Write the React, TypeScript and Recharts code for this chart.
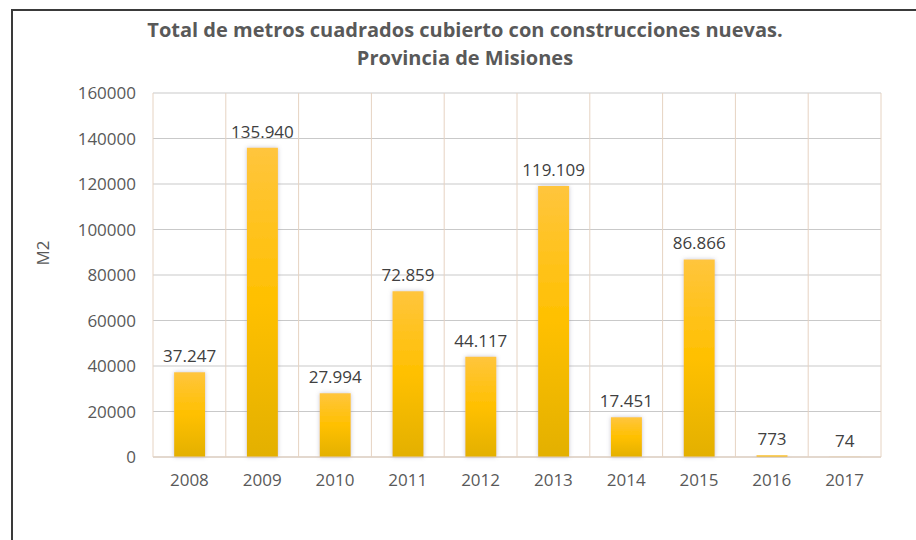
import React from 'react';
import { BarChart, Bar, XAxis, YAxis, CartesianGrid, LabelList } from 'recharts';

const years = ['2008', '2009', '2010', '2011', '2012', '2013', '2014', '2015', '2016', '2017'];
const m2Values = [37247, 135940, 27994, 72859, 44117, 119109, 17451, 86866, 773, 74];
const yTicks = [0, 20000, 40000, 60000, 80000, 100000, 120000, 140000, 160000];

const data = years.map((year, i) => ({ year, m2: m2Values[i] }));

const FONT = '"Open Sans", sans-serif';

// 37247 -> "37.247"
const fmtThousands = (v: number) => String(v).replace(/\B(?=(\d{3})+(?!\d))/g, '.');

const App: React.FC = () => {
  const plotLeft = 153;
  const plotRight = 881;
  const plotTop = 93;
  const plotBottom = 457;
  const step = (plotRight - plotLeft) / years.length;
  const boundaries = Array.from({ length: years.length + 1 }, (_, i) => plotLeft + i * step);

  return (
    <div style={{ position: 'absolute', left: 0, top: 0, width: 916, height: 540, background: '#fff', overflow: 'hidden', fontFamily: FONT }}>
      <svg width={0} height={0} style={{ position: 'absolute' }}>
        <defs>
          <linearGradient id="barFill" x1="0" y1="0" x2="0" y2="1">
            <stop offset="0%" stopColor="#ffc53d" />
            <stop offset="50%" stopColor="#ffc000" />
            <stop offset="100%" stopColor="#e3b000" />
          </linearGradient>
          <filter id="barShadow" x="-40%" y="-10%" width="180%" height="120%">
            <feDropShadow dx="0" dy="0" stdDeviation="2" floodColor="#7a7a9a" floodOpacity="0.45" />
          </filter>
        </defs>
      </svg>

      {/* chart frame, only left and top edges fall inside the picture */}
      <div style={{ position: 'absolute', left: 11, top: 9, width: 960, height: 600, borderLeft: '2px solid #3a3a3a', borderTop: '2px solid #3a3a3a' }} />

      <div style={{ position: 'absolute', left: 0, width: 930, top: 16, textAlign: 'center', color: '#595959', fontWeight: 700, fontSize: 20, lineHeight: '28px' }}>
        Total de metros cuadrados cubierto con construcciones nuevas.
        <br />
        Provincia de Misiones
      </div>

      <div style={{ position: 'absolute', left: 0, top: 0 }}>
        <BarChart
          width={916}
          height={540}
          data={data}
          margin={{ top: plotTop, right: 916 - plotRight, bottom: 540 - plotBottom - 40, left: 93 }}
          barCategoryGap="29%"
        >
          <CartesianGrid vertical={false} stroke="#c9c9c9" strokeWidth={1} />
          <XAxis
            dataKey="year"
            height={40}
            tickLine={false}
            axisLine={{ stroke: '#e2ccb8' }}
            tick={{ fontSize: 17, fill: '#595959', fontFamily: FONT }}
            tickSize={0}
            tickMargin={17}
            interval={0}
          />
          <YAxis
            width={60}
            domain={[0, 160000]}
            ticks={yTicks}
            tickLine={false}
            axisLine={false}
            tick={{ fontSize: 17, fill: '#595959', fontFamily: FONT }}
            tickSize={0}
            tickMargin={17}
            interval={0}
          />
          <Bar dataKey="m2" fill="url(#barFill)" filter="url(#barShadow)" isAnimationActive={false}>
            <LabelList
              dataKey="m2"
              position="top"
              offset={10}
              formatter={(v: any) => fmtThousands(Number(v))}
              style={{ fontSize: 17, fill: '#404040', fontFamily: FONT }}
            />
          </Bar>
        </BarChart>
      </div>

      {/* vertical category boundaries and plot edges */}
      <svg width={916} height={540} style={{ position: 'absolute', left: 0, top: 0, pointerEvents: 'none' }}>
        {boundaries.map((x, i) => (
          <line key={i} x1={x} x2={x} y1={plotTop} y2={plotBottom} stroke="#e6d3c2" strokeWidth={1} />
        ))}
      </svg>

      <div style={{ position: 'absolute', left: 42, top: 253, transform: 'translate(-50%, -50%) rotate(-90deg)', color: '#595959', fontSize: 17 }}>
        M2
      </div>
    </div>
  );
};

export default App;
